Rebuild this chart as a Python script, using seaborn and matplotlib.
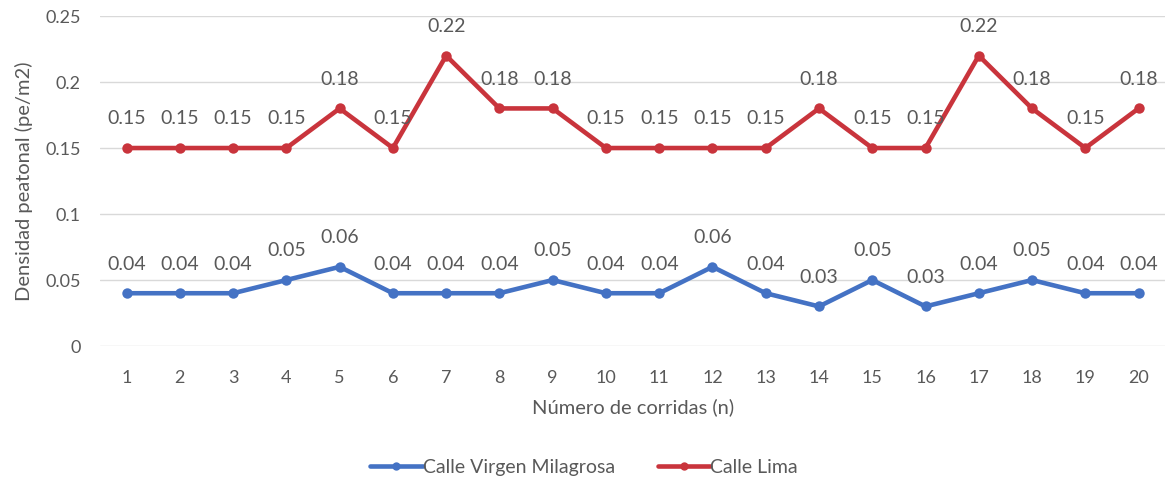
import matplotlib
matplotlib.use("Agg")
import matplotlib.pyplot as plt
import seaborn as sns
import pandas as pd

corridas = list(range(1, 21))
virgen_milagrosa = [0.04, 0.04, 0.04, 0.05, 0.06, 0.04, 0.04, 0.04, 0.05, 0.04,
                    0.04, 0.06, 0.04, 0.03, 0.05, 0.03, 0.04, 0.05, 0.04, 0.04]
lima = [0.15, 0.15, 0.15, 0.15, 0.18, 0.15, 0.22, 0.18, 0.18, 0.15,
        0.15, 0.15, 0.15, 0.18, 0.15, 0.15, 0.22, 0.18, 0.15, 0.18]
series_names = ["Calle Virgen Milagrosa", "Calle Lima"]
y_ticks = [0, 0.05, 0.1, 0.15, 0.2, 0.25]
y_tick_labels = ["0", "0.05", "0.1", "0.15", "0.2", "0.25"]

df = pd.DataFrame({
    "corrida": corridas * 2,
    "densidad": virgen_milagrosa + lima,
    "calle": [series_names[0]] * len(corridas) + [series_names[1]] * len(corridas),
})

sns.set_theme(style="white")
plt.rcParams["font.family"] = ["Lato", "DejaVu Sans"]
text_color = "#595959"
palette = {series_names[0]: "#4472C4", series_names[1]: "#C9343C"}

fig = plt.figure(figsize=(11.68, 4.86), dpi=100)
ax = fig.add_axes([0.0856, 0.288, 0.912, 0.679])

sns.lineplot(data=df, x="corrida", y="densidad", hue="calle", hue_order=series_names,
             palette=palette, marker="o", markersize=7.5, markeredgewidth=0,
             linewidth=3.3, ax=ax, legend=False)

# value labels above every point
for name, vals in zip(series_names, [virgen_milagrosa, lima]):
    for x, v in zip(corridas, vals):
        ax.annotate(f"{v:g}", (x, v), xytext=(0, 21), textcoords="offset points",
                    ha="center", va="center", fontsize=14, color=text_color)

ax.set_xlim(0.5, 20.5)
ax.set_ylim(0, 0.25)
ax.set_xticks(corridas)
ax.set_xticklabels([str(c) for c in corridas])
ax.set_yticks(y_ticks)
ax.set_yticklabels(y_tick_labels)
ax.grid(axis="y", color="#D9D9D9", linewidth=1.0)
ax.set_axisbelow(True)
for s in ax.spines.values():
    s.set_visible(False)
ax.tick_params(axis="both", length=0, labelsize=13, labelcolor=text_color)
ax.tick_params(axis="x", pad=17)
ax.tick_params(axis="y", pad=14)

ax.set_xlabel("Número de corridas (n)", fontsize=14.5, color=text_color, labelpad=9)
ax.set_ylabel("Densidad peatonal (pe/m2)", fontsize=14.5, color=text_color, labelpad=9)

handles = [plt.Line2D([], [], color=palette[n], linewidth=3.3, marker="o",
                      markersize=6, markeredgewidth=0) for n in series_names]
fig.legend(handles, series_names, loc="center", bbox_to_anchor=(0.5, 0.039), ncol=2,
           frameon=False, fontsize=14, labelcolor=text_color, handlelength=2.7,
           handletextpad=0.0, columnspacing=2.2)

fig.savefig("out.png", dpi=100, facecolor="white")
